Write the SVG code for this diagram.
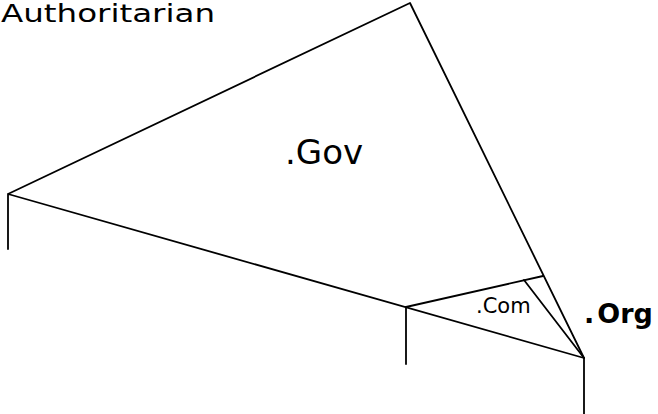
<svg xmlns="http://www.w3.org/2000/svg" width="658" height="414" viewBox="0 0 658 414">
<style>
.ln{stroke:#000;stroke-width:1.8;fill:none;stroke-linecap:round;stroke-linejoin:round}
.t{font-family:"DejaVu Sans","Liberation Sans",sans-serif;fill:#000}
</style>
<rect width="658" height="414" fill="#fff"/>
<g id="connectors">
<polyline class="ln" points="8,249 8,194 410,3 584,358 8,194"/>
<line class="ln" x1="406" y1="307" x2="406" y2="364"/>
<line class="ln" x1="406" y1="307" x2="543" y2="276"/>
<line class="ln" x1="524" y1="280" x2="584" y2="358"/>
<line class="ln" x1="584" y1="358" x2="584" y2="414"/>
</g>
<g id="authoritarian"><text class="t" x="1" y="22" font-size="24" textLength="214" lengthAdjust="spacingAndGlyphs">Authoritarian</text></g>
<g id="gov"><text class="t" x="285" y="164" font-size="34">.Gov</text></g>
<g id="com"><text class="t" x="476" y="313" font-size="21">.Com</text></g>
<g id="org"><text class="t" x="584" y="323" font-size="27" font-weight="bold">.<tspan dx="3">Org</tspan></text></g>
</svg>
